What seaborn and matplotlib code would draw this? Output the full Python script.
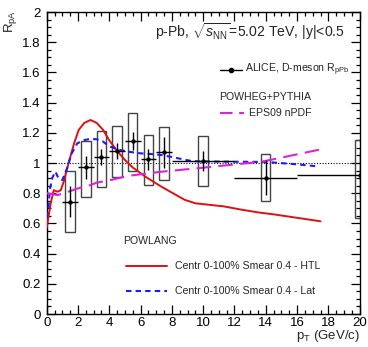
import numpy as np
import pandas as pd
import matplotlib
matplotlib.use("Agg")
import matplotlib.pyplot as plt
from matplotlib.patches import Rectangle
from matplotlib.lines import Line2D
import seaborn as sns

# ALICE D-meson R_pPb measurement
pt = [1.5, 2.5, 3.5, 4.5, 5.5, 6.5, 7.5, 10.0, 14.0, 20.0]
pt_half = [0.5, 0.5, 0.5, 0.5, 0.5, 0.5, 0.5, 2.0, 2.0, 4.0]
rppb = [0.745, 0.971, 1.038, 1.079, 1.146, 1.024, 1.070, 1.015, 0.903, 0.920]
stat = [0.100, 0.074, 0.052, 0.055, 0.060, 0.070, 0.100, 0.065, 0.115, 0.150]
syst_lo = [0.200, 0.194, 0.195, 0.174, 0.197, 0.170, 0.183, 0.167, 0.153, 0.286]
syst_hi = [0.200, 0.173, 0.174, 0.166, 0.183, 0.161, 0.170, 0.164, 0.157, 0.232]
box_half = 0.3

# POWLANG, HTL transport coefficients
htl_pt = [0.0, 0.25, 0.45, 0.7, 0.9, 1.1, 1.4, 1.75, 2.05, 2.4, 2.8, 3.2, 3.6,
          4.0, 4.5, 5.0, 5.5, 6.3, 7.3, 8.8, 9.5, 11.3, 12.5, 13.5, 14.5, 17.5]
htl_r = [0.57, 0.73, 0.82, 0.81, 0.82, 0.88, 1.00, 1.13, 1.22, 1.265, 1.285,
         1.265, 1.22, 1.15, 1.08, 1.02, 0.97, 0.91, 0.845, 0.757, 0.733, 0.713,
         0.69, 0.673, 0.66, 0.614]

# POWLANG, lattice transport coefficients
lat_pt = [0.0, 0.1, 0.2, 0.35, 0.55, 0.75, 1.0, 1.3, 1.6, 1.95, 2.4, 2.8, 3.2,
          3.6, 4.0, 4.7, 5.2, 6.0, 6.6, 7.3, 7.9, 8.4, 9.3, 11.0, 12.5, 14.0,
          15.8, 17.3]
lat_r = [0.64, 0.69, 0.82, 0.90, 0.943, 0.90, 0.887, 0.965, 1.064, 1.13, 1.152,
         1.16, 1.157, 1.142, 1.11, 1.086, 1.075, 1.064, 1.06, 1.053, 1.042,
         1.031, 1.012, 1.009, 1.008, 1.007, 0.993, 0.978]

# POWHEG+PYTHIA with EPS09 nPDF
eps_pt = [0.0, 0.7, 1.1, 2.0, 2.8, 3.2, 4.0, 5.2, 6.0, 7.3, 9.5, 11.6, 13.7,
          15.8, 17.5]
eps_r = [0.80, 0.788, 0.80, 0.832, 0.854, 0.87, 0.885, 0.915, 0.925, 0.942,
         0.964, 0.986, 1.008, 1.053, 1.09]

sns.set_theme(style="ticks")
plt.rcParams.update({
    "font.family": ["Liberation Sans", "DejaVu Sans"],
    "mathtext.fontset": "custom",
    "mathtext.rm": "Liberation Sans",
    "mathtext.it": "Liberation Sans:italic",
    "mathtext.bf": "Liberation Sans:bold",
    "axes.linewidth": 1.0,
    "axes.edgecolor": "black",
})

fig = plt.figure(figsize=(3.68, 3.47), dpi=100)
ax = fig.add_axes([0.1269, 0.0951, 0.8505, 0.8703])

RED = "#dd1111"
BLUE = "#1a1aff"
MAG = "#dd22dd"

# reference line at unity
ax.axhline(1.0, color="black", lw=0.8, ls=(0, (1, 1.5)), zorder=1)

curves = pd.concat([
    pd.DataFrame({"pt": htl_pt, "r": htl_r, "model": "HTL"}),
    pd.DataFrame({"pt": lat_pt, "r": lat_r, "model": "Lat"}),
    pd.DataFrame({"pt": eps_pt, "r": eps_r, "model": "EPS09"}),
])
sns.lineplot(data=curves[curves.model == "HTL"], x="pt", y="r", ax=ax,
             color=RED, lw=1.4, sort=False, estimator=None, legend=False,
             zorder=3)
sns.lineplot(data=curves[curves.model == "Lat"], x="pt", y="r", ax=ax,
             color=BLUE, lw=1.5, sort=False, estimator=None, legend=False,
             zorder=3, dashes=False, linestyle=(0, (2.6, 2.0)))
sns.lineplot(data=curves[curves.model == "EPS09"], x="pt", y="r", ax=ax,
             color=MAG, lw=1.5, sort=False, estimator=None, legend=False,
             zorder=3, dashes=False, linestyle=(0, (7, 3.5)))

# systematic uncertainty boxes
for x, y, lo, hi in zip(pt, rppb, syst_lo, syst_hi):
    ax.add_patch(Rectangle((x - box_half, y - lo), 2 * box_half, lo + hi,
                           fill=False, edgecolor="#444444", lw=1.0, zorder=2))

# data points with statistical errors and bin widths
ax.errorbar(pt, rppb, xerr=pt_half, yerr=stat, fmt="none", ecolor="black",
            elinewidth=1.0, capsize=0, zorder=4)
sns.scatterplot(x=pt, y=rppb, ax=ax, color="black", s=10, marker="o",
                edgecolor="black", linewidth=0, zorder=5, legend=False)

ax.set_xlim(0, 20)
ax.set_ylim(0, 2)
ax.set_xticks(np.arange(0, 21, 2))
ax.set_xticks(np.arange(0, 20.01, 0.5), minor=True)
ax.set_yticks(np.round(np.arange(0, 2.01, 0.2), 1))
ax.set_yticks(np.arange(0, 2.001, 0.05), minor=True)
ax.set_yticklabels(["0", "0.2", "0.4", "0.6", "0.8", "1", "1.2", "1.4",
                    "1.6", "1.8", "2"])
ax.tick_params(which="both", direction="in", top=True, right=True,
               labelsize=9.5, colors="black", width=0.9)
ax.tick_params(which="major", length=6.5)
ax.tick_params(which="minor", length=3.2)
ax.tick_params(axis="y", pad=4.5)
ax.tick_params(axis="x", pad=2.0)

ax.set_xlabel(r"p$_{\rm T}$ (GeV/c)", fontsize=9.5, loc="right")
ax.xaxis.set_label_coords(1.0, -0.073)
ax.xaxis.label.set_va("center")
ax.set_ylabel(r"R$_{\rm pA}$", fontsize=9.5, loc="top")
ax.yaxis.set_label_coords(-0.087, 1.008)

ax.text(0.953, 0.917, r"p-Pb, $\sqrt{s_{\rm NN}}$=5.02 TeV, |y|<0.5",
        transform=ax.transAxes, ha="right", va="baseline", fontsize=10.1)

# legend block: ALICE and POWHEG+PYTHIA
fs = 7.6
ax.add_line(Line2D([0.554, 0.625], [0.808, 0.808], color="black", lw=1.0,
                   transform=ax.transAxes))
ax.add_line(Line2D([0.589], [0.808], color="black", marker="o", ms=3,
                   transform=ax.transAxes))
ax.text(0.633, 0.808, r"ALICE, D-meson R$_{\rm pPb}$", transform=ax.transAxes,
        ha="left", va="center", fontsize=fs)
ax.text(0.551, 0.7185, "POWHEG+PYTHIA", transform=ax.transAxes,
        ha="left", va="center", fontsize=fs)
ax.add_line(Line2D([0.554, 0.630], [0.667, 0.667], color=MAG, lw=1.5,
                   ls=(0, (6, 3.2)), transform=ax.transAxes))
ax.text(0.646, 0.667, "EPS09 nPDF", transform=ax.transAxes,
        ha="left", va="center", fontsize=fs)

# legend block: POWLANG
ax.text(0.244, 0.2417, "POWLANG", transform=ax.transAxes,
        ha="left", va="center", fontsize=fs)
ax.add_line(Line2D([0.253, 0.383], [0.160, 0.160], color=RED, lw=1.4,
                   transform=ax.transAxes))
ax.text(0.41, 0.158, "Centr 0-100% Smear 0.4 - HTL", transform=ax.transAxes,
        ha="left", va="center", fontsize=fs)
ax.add_line(Line2D([0.253, 0.383], [0.077, 0.077], color=BLUE, lw=1.5,
                   ls=(0, (2.6, 2.0)), transform=ax.transAxes))
ax.text(0.41, 0.075, "Centr 0-100% Smear 0.4 - Lat", transform=ax.transAxes,
        ha="left", va="center", fontsize=fs)

fig.savefig("out.png", dpi=100)
